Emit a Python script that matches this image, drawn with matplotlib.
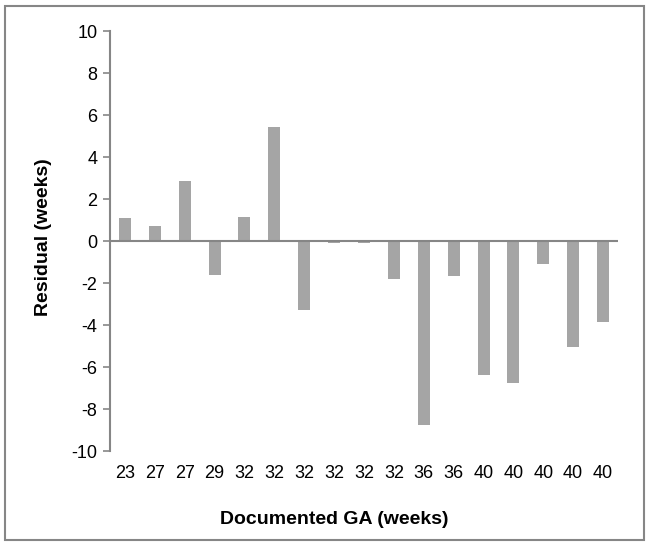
import matplotlib
matplotlib.use("Agg")
import matplotlib.pyplot as plt
from matplotlib.patches import Rectangle

categories = ["23", "27", "27", "29", "32", "32", "32", "32", "32", "32",
              "36", "36", "40", "40", "40", "40", "40"]
residuals = [1.1, 0.7, 2.85, -1.6, 1.15, 5.45, -3.3, -0.08, -0.08, -1.8,
             -8.75, -1.65, -6.4, -6.75, -1.1, -5.05, -3.85]
y_ticks = list(range(-10, 11, 2))

plt.rcParams['font.family'] = ['Liberation Sans', 'DejaVu Sans']

fig = plt.figure(figsize=(6.5, 5.47), dpi=100)
ax = fig.add_axes([110/650, 1 - 451/547, 508/650, 420/547])

x = list(range(len(categories)))
ax.bar(x, residuals, width=0.4, color='#a5a5a5', zorder=2)
ax.axhline(0, color='#868686', linewidth=1.5, zorder=3)

ax.set_xlim(-0.5, len(categories) - 0.5)
ax.set_ylim(-10, 10)
ax.set_yticks(y_ticks)
ax.set_yticklabels([str(t) for t in y_ticks], fontsize=13)
ax.set_xticks(x)
ax.set_xticklabels(categories, fontsize=13)

for s in ['top', 'right', 'bottom']:
    ax.spines[s].set_visible(False)
ax.spines['left'].set_color('#868686')
ax.spines['left'].set_linewidth(1.5)
ax.tick_params(axis='y', direction='out', length=5, width=1.2, color='#868686', pad=4)
ax.tick_params(axis='x', length=0, pad=10)

ax.set_xlabel('Documented GA (weeks)', fontsize=14, fontweight='bold', labelpad=21, x=0.442)
ax.set_ylabel('Residual (weeks)', fontsize=14, fontweight='bold', labelpad=14, y=0.51)

fig.patches.append(Rectangle((5/650, 7/547), 639/650, 534/547, transform=fig.transFigure,
                             fill=False, edgecolor='#868686', linewidth=1.5))

fig.savefig('out.png', dpi=100)
